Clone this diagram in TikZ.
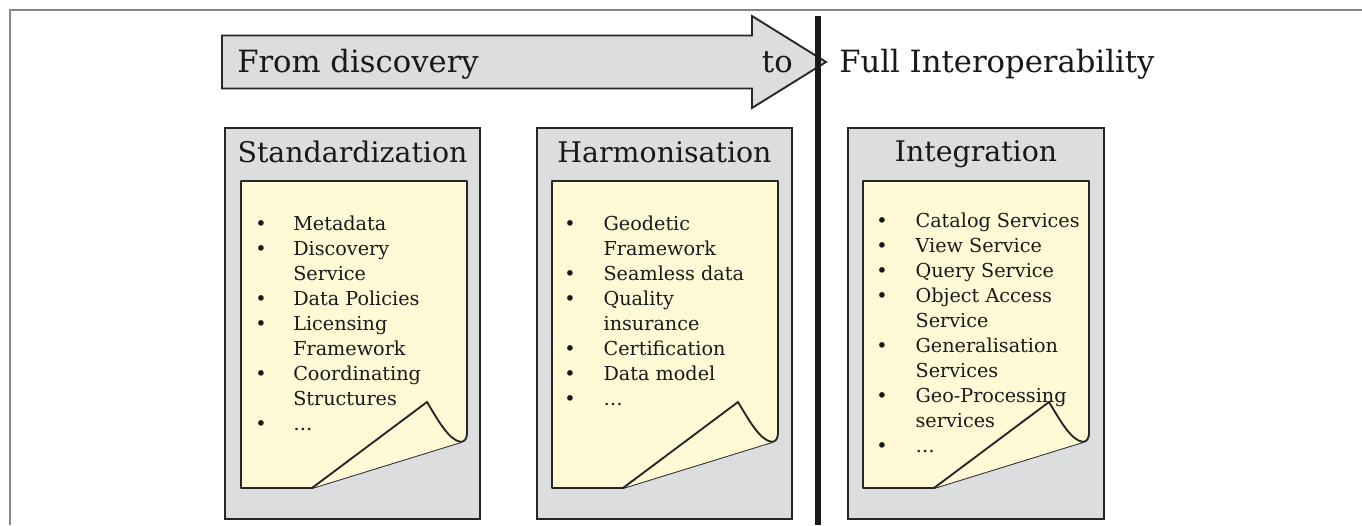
\documentclass[tikz,border=0pt]{standalone}
\usepackage{fontspec}
\setmainfont{DejaVu Serif}
\usepackage{tikz}
\usetikzlibrary{calc}

\definecolor{panelgrey}{HTML}{DCDDDF}
\definecolor{notepaper}{HTML}{FFF9D6}
\definecolor{framegrey}{HTML}{858585}

\newcommand{\arrowfont}{\fontsize{23}{27}\selectfont}
\newcommand{\headfont}{\fontsize{21.3}{26}\selectfont}
\newcommand{\listfont}{\fontsize{14.4}{18.75}\selectfont}
\newcommand{\bul}{\textbullet}

\tikzset{
  panel/.style={draw=black!85, fill=panelgrey, line width=1.4pt},
  sheet/.style={draw=black!85, fill=notepaper, line width=1.4pt, line join=round},
  arrowtext/.style={font=\arrowfont, inner sep=0pt, text=black!90},
  headline/.style={font=\headfont, inner sep=0pt, text=black!90, anchor=base},
  itemlist/.style={font=\listfont, inner sep=0pt, anchor=base west, text=black!90},
}

% yellow sheet with a curled lower corner, #1 = left edge, #2 = right edge
\newcommand{\notesheet}[2]{%
  \draw[sheet] (#1,181) -- (#2,181) -- (#2,432)
    .. controls (#2,439) and (#2-2,441) .. (#2-6,442)
    -- (#2-155,488) -- (#1,488) -- cycle;
  \draw[sheet] (#2-155,488) -- (#2-40,402)
    .. controls (#2-28,422) and (#2-18,440) .. (#2-6,442);
}

\begin{document}
\begin{tikzpicture}[x=0.75pt,y=-0.75pt]
  \useasboundingbox (0,0) rectangle (1362,525);

  % rule along the top and the left side
  \draw[framegrey, line width=1.2pt] (1362,10) -- (10,10) -- (10,525);

  % the big arrow
  \draw[panel] (222,35.5) -- (752,35.5) -- (752,16) -- (826,62)
    -- (752,108) -- (752,88.5) -- (222,88.5) -- cycle;
  \node[arrowtext, anchor=base west] (from) at (237,72.5) {From discovery};
  \node[arrowtext, anchor=base east] (to) at (793,72.5) {to};
  \node[arrowtext, anchor=base west] (full) at (839,72.5) {Full Interoperability};

  % divider between the two halves
  \draw[line width=4.5pt, black!90] (817.5,16) -- (817.5,525);

  % three panels with their sheets
  \draw[panel] (225,128) rectangle (480,519);
  \draw[panel] (537,128) rectangle (792,519);
  \draw[panel] (848,128) rectangle (1104,519);
  \notesheet{241}{467}
  \notesheet{552}{778}
  \notesheet{863}{1089}

  \node[headline] (std) at (352.5,162) {Standardization};
  \node[headline] (harm) at (664.5,162) {Harmonisation};
  \node[headline] (integ) at (976,161) {Integration};

  \node[itemlist] (stdlist) at (255,230) {\begin{tabular}[t]{@{}p{28.5pt}@{}l@{}}
    \bul & Metadata\\
    \bul & Discovery\\
         & Service\\
    \bul & Data Policies\\
    \bul & Licensing\\
         & Framework\\
    \bul & Coordinating\\
         & Structures\\
    \bul & \ldots
  \end{tabular}};

  \node[itemlist] (harmlist) at (564,230) {\begin{tabular}[t]{@{}p{29.5pt}@{}l@{}}
    \bul & Geodetic\\
         & Framework\\
    \bul & Seamless data\\
    \bul & Quality\\
         & insurance\\
    \bul & Certification\\
    \bul & Data model\\
    \bul & \ldots
  \end{tabular}};

  \node[itemlist] (integlist) at (876,227) {\begin{tabular}[t]{@{}p{29.5pt}@{}l@{}}
    \bul & Catalog Services\\
    \bul & View Service\\
    \bul & Query Service\\
    \bul & Object Access\\
         & Service\\
    \bul & Generalisation\\
         & Services\\
    \bul & Geo-Processing\\
         & services\\
    \bul & \ldots
  \end{tabular}};
\end{tikzpicture}
\end{document}
